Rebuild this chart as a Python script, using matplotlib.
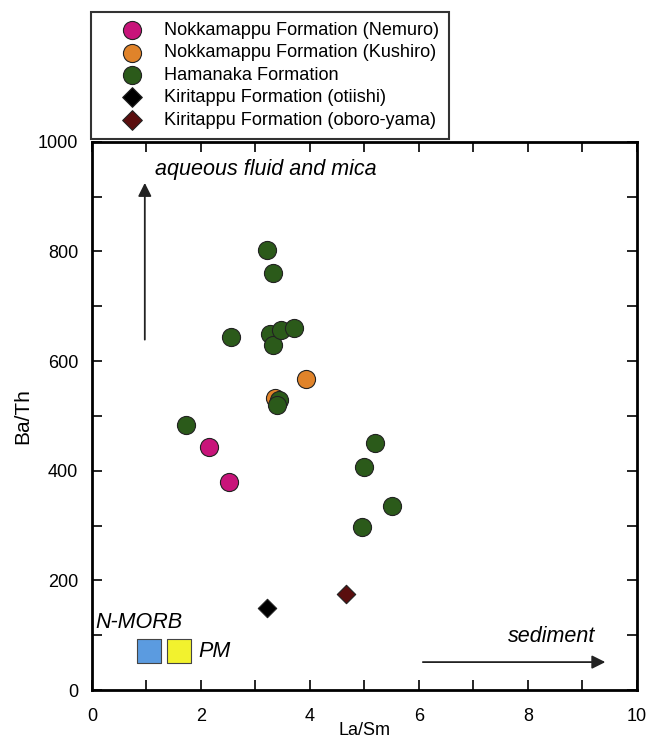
import matplotlib
matplotlib.use("Agg")
import matplotlib.pyplot as plt

plt.rcParams['font.family'] = ['Liberation Sans', 'DejaVu Sans']

# La/Sm, Ba/Th
nemuro_x = [2.15, 2.51]
nemuro_y = [443, 380]
kushiro_x = [3.93, 3.35]
kushiro_y = [567, 533]
hamanaka_x = [3.22, 3.32, 2.56, 3.26, 3.33, 3.47, 3.71, 3.44, 3.40, 1.72, 5.19, 4.99, 4.95, 5.51]
hamanaka_y = [803, 760, 644, 649, 630, 657, 661, 529, 520, 484, 451, 407, 297, 336]
otiishi_x = [3.21]
otiishi_y = [150]
oboro_x = [4.67]
oboro_y = [176]

nmorb = (1.04, 71)
pm = (1.59, 71)

fig = plt.figure(figsize=(6.52, 7.42), dpi=100)
ax = fig.add_axes([0.141, 0.070, 0.836, 0.739])

ec = '#222222'
h1 = ax.scatter(nemuro_x, nemuro_y, s=170, c='#C8147A', edgecolors=ec, linewidths=0.8, zorder=3)
h2 = ax.scatter(kushiro_x, kushiro_y, s=170, c='#E0832A', edgecolors=ec, linewidths=0.8, zorder=3)
h3 = ax.scatter(hamanaka_x, hamanaka_y, s=170, c='#2B5A1A', edgecolors=ec, linewidths=0.8, zorder=3)
h4 = ax.scatter(otiishi_x, otiishi_y, s=88, marker='D', c='black', edgecolors=ec, linewidths=0.8, zorder=3)
h5 = ax.scatter(oboro_x, oboro_y, s=88, marker='D', c='#5A0E0E', edgecolors=ec, linewidths=0.8, zorder=3)

ax.scatter([nmorb[0]], [nmorb[1]], s=310, marker='s', c='#5B9BE0', edgecolors='#444444', linewidths=0.8, zorder=3)
ax.scatter([pm[0]], [pm[1]], s=310, marker='s', c='#F2F22E', edgecolors='#444444', linewidths=0.8, zorder=3)
ax.text(0.07, 123, 'N-MORB', fontsize=15.5, style='italic', va='center', ha='left')
ax.text(1.95, 71, 'PM', fontsize=15.5, style='italic', va='center', ha='left')

# arrows
ax.annotate('', xy=(0.97, 930), xytext=(0.97, 634),
            arrowprops=dict(arrowstyle='-|>', color='#222222', lw=1.3, mutation_scale=20))
ax.text(1.15, 949, 'aqueous fluid and mica', fontsize=15.5, style='italic', va='center', ha='left')
ax.annotate('', xy=(9.47, 51), xytext=(6.02, 51),
            arrowprops=dict(arrowstyle='-|>', color='#222222', lw=1.3, mutation_scale=20))
ax.text(8.44, 98, 'sediment', fontsize=15.5, style='italic', va='center', ha='center')

ax.set_xlim(0, 10)
ax.set_ylim(0, 1000)
ax.set_xticks(range(0, 11, 2))
ax.set_xticks(range(0, 11, 1), minor=True)
ax.set_yticks(range(0, 1001, 200))
ax.set_yticks(range(0, 1001, 100), minor=True)
ax.set_xticklabels(['0', '2', '4', '6', '8', '10'])
ax.tick_params(which='both', direction='in', top=True, right=True, length=7.5, width=1.2, labelsize=13)
ax.tick_params(axis='x', pad=13)
ax.tick_params(axis='y', pad=10)
for sp in ax.spines.values():
    sp.set_linewidth(2)

ax.set_xlabel('La/Sm', fontsize=13, labelpad=-2)
ax.set_ylabel('Ba/Th', fontsize=15, labelpad=4)

labels = ['Nokkamappu Formation (Nemuro)', 'Nokkamappu Formation (Kushiro)',
          'Hamanaka Formation', 'Kiritappu Formation (otiishi)',
          'Kiritappu Formation (oboro-yama)']
leg = fig.legend([h1, h2, h3, h4, h5], labels, loc='upper left',
                 bbox_to_anchor=(0.140, 0.984), fontsize=13.1, frameon=True,
                 fancybox=False, edgecolor='black', borderpad=0.55, labelspacing=0.3,
                 handletextpad=0.05, borderaxespad=0, handlelength=3.4)
leg.get_frame().set_linewidth(1.5)
for hd in leg.legend_handles[3:]:
    hd.set_sizes([100])

fig.savefig('out.png', dpi=100)
